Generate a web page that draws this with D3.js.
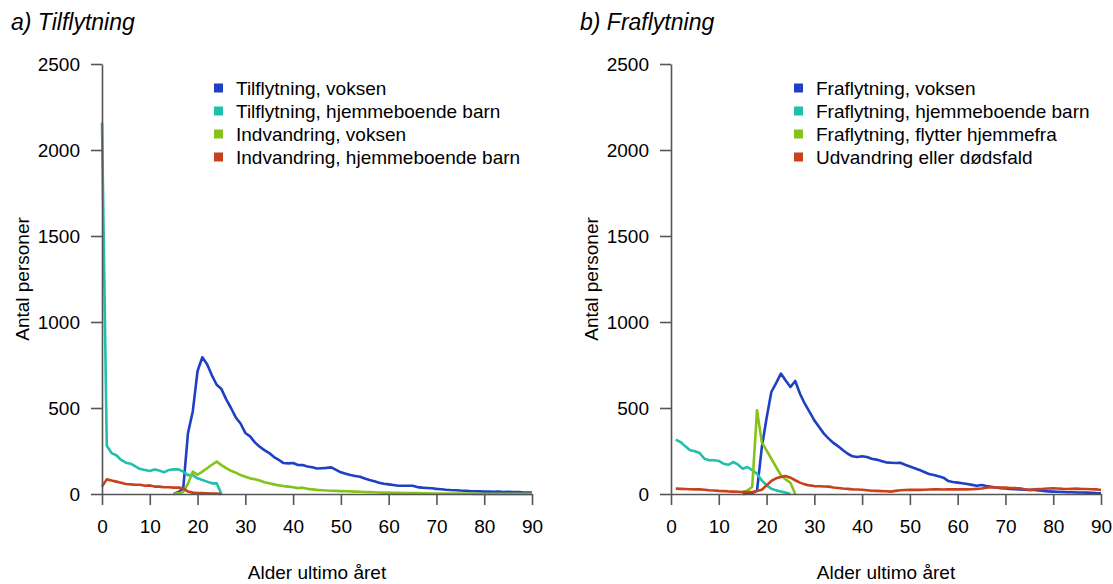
<!DOCTYPE html>
<html>
<head>
<meta charset="utf-8">
<script src="https://cdn.jsdelivr.net/npm/d3@7"></script>
<style>
  body { margin: 0; background: #fff; }
  svg { display: block; font-family: "Liberation Sans", Arial, sans-serif; }
</style>
</head>
<body>
<svg id="chart" width="1113" height="584"></svg>
<script>
// ---------------- DATA ----------------
const xTicks = [0, 10, 20, 30, 40, 50, 60, 70, 80, 90];
const yTicks = [0, 500, 1000, 1500, 2000, 2500];

const titleA = "a) Tilflytning";
const titleB = "b) Fraflytning";
const xTitle = "Alder ultimo året";
const yTitle = "Antal personer";

const legendA = ["Tilflytning, voksen", "Tilflytning, hjemmeboende barn", "Indvandring, voksen", "Indvandring, hjemmeboende barn"];
const legendB = ["Fraflytning, voksen", "Fraflytning, hjemmeboende barn", "Fraflytning, flytter hjemmefra", "Udvandring eller dødsfald"];
const colors = ["#1f3fc4", "#21c0ac", "#86c21c", "#c9401d"];

// Panel a) series: start age + consecutive yearly values
const tilVoksenStart = 15;
const tilVoksen = [0, 12, 32, 355, 480, 715, 795, 755, 690, 635, 610, 550, 500, 445, 410, 355, 335, 300, 275, 255,
  238, 215, 198, 180, 178, 180, 169, 168, 160, 155, 148, 150, 152, 155, 140, 126, 118, 110, 105, 100,
  90, 81, 74, 66, 60, 56, 52, 48, 48, 48, 48, 40, 37, 35, 33, 30, 28, 25, 23, 22,
  20, 19, 17, 16, 15, 14, 14, 13, 14, 12, 13, 11, 12, 10, 9, 8];
const tilBarnStart = 0;
const tilBarn = [2160, 280, 238, 225, 198, 182, 176, 160, 145, 140, 134, 143, 136, 126, 140, 143, 143, 130, 110, 110,
  91, 81, 72, 62, 62, 0];
const indVoksenStart = 15;
const indVoksen = [0, 5, 12, 60, 130, 112, 130, 150, 170, 188, 168, 150, 135, 124, 110, 100, 91, 86, 78, 68,
  62, 56, 50, 46, 43, 39, 34, 37, 30, 27, 24, 22, 20, 19, 18, 17, 16, 15, 14, 13,
  12, 11, 10, 9, 8, 8, 7, 7, 6, 6, 5, 5, 4, 4, 3, 3, 3, 2, 2, 2,
  2, 2, 2, 1, 1, 1, 1, 1, 1, 1, 1, 1, 1, 1, 1, 1];
const indBarnStart = 0;
const indBarn = [43, 85, 78, 72, 66, 58, 56, 54, 54, 48, 50, 43, 43, 39, 39, 37, 37, 33, 14, 8,
  6, 5, 4, 3, 2, 0];

// Panel b) series
const fraVoksenStart = 15;
const fraVoksen = [0, 2, 5, 18, 270, 440, 593, 645, 700, 660, 622, 657, 583, 525, 477, 428, 390, 351, 322, 297,
  277, 254, 234, 219, 215, 219, 215, 205, 200, 192, 184, 182, 180, 182, 170, 160, 150, 140, 128, 116,
  110, 103, 95, 76, 70, 66, 62, 58, 53, 48, 52, 46, 42, 38, 34, 32, 30, 28, 27, 25,
  24, 23, 21, 18, 15, 14, 13, 12, 10, 10, 9, 9, 8, 7, 5, 4];
const fraBarnStart = 1;
const fraBarn = [316, 302, 277, 254, 248, 238, 205, 196, 196, 192, 176, 170, 186, 172, 147, 157, 138, 118, 79, 50,
  31, 21, 15, 8, 0];
const fraHjemStart = 15;
const fraHjem = [12, 21, 41, 486, 302, 254, 205, 157, 109, 85, 65, 0];
const udvandStart = 1;
const udvand = [31, 30, 29, 28, 27, 27, 25, 22, 20, 18, 17, 15, 14, 13, 12, 12, 12, 17, 25, 50,
  76, 91, 99, 105, 95, 80, 66, 56, 50, 46, 45, 44, 43, 38, 35, 32, 30, 27, 26, 25,
  22, 19, 18, 17, 16, 14, 18, 22, 23, 24, 25, 24, 25, 26, 27, 27, 26, 27, 27, 27,
  28, 27, 28, 30, 32, 36, 39, 38, 37, 37, 35, 34, 33, 28, 23, 27, 29, 30, 32, 33,
  32, 30, 29, 30, 31, 29, 29, 28, 27, 23];

// ---------------- DRAW ----------------
const svg = d3.select("#chart");
const axisColor = "#555";
const fs = 19;

function panel(opts) {
  const { x0, x1, title, titleX, legend, legendX, series } = opts;
  const y0 = 494, y1 = 64;
  const x = d3.scaleLinear().domain([0, 90]).range([x0, x1]);
  const y = d3.scaleLinear().domain([0, 2500]).range([y0, y1]);
  const g = svg.append("g");

  // title
  g.append("text").attr("x", titleX).attr("y", 30)
    .attr("font-size", 23).attr("font-style", "italic").text(title);

  // lines
  const line = d3.line().x(d => x(d[0])).y(d => y(d[1]));
  series.forEach((s, i) => {
    const pts = s.values.map((v, k) => [s.start + k, v]);
    g.append("path").datum(pts).attr("d", line)
      .attr("fill", "none").attr("stroke", colors[i]).attr("stroke-width", 2.6)
      .attr("stroke-linejoin", "round");
  });

  // y axis
  const ya = g.append("g").attr("transform", `translate(${x0},0)`)
    .call(d3.axisLeft(y).tickValues(yTicks).tickFormat(d3.format("d")).tickSize(11).tickSizeOuter(0).tickPadding(11));
  // x axis
  const xa = g.append("g").attr("transform", `translate(0,${y0})`)
    .call(d3.axisBottom(x).tickValues(xTicks).tickFormat(d3.format("d")).tickSize(11).tickSizeOuter(0).tickPadding(15));
  [ya, xa].forEach(a => {
    a.selectAll("path, line").attr("stroke", axisColor).attr("stroke-width", 1.6);
    a.selectAll("text").attr("font-size", fs).attr("fill", "#000")
      .attr("font-family", "Liberation Sans, Arial, sans-serif");
  });

  // axis titles
  g.append("text").attr("x", (x0 + x1) / 2).attr("y", 579).attr("text-anchor", "middle")
    .attr("font-size", fs).text(xTitle);
  g.append("text").attr("transform", `translate(${x0 - 73},${(y0 + y1) / 2}) rotate(-90)`)
    .attr("text-anchor", "middle").attr("font-size", fs).text(yTitle);

  // legend
  const lg = g.append("g");
  legend.forEach((t, i) => {
    const cy = 88 + i * 23;
    lg.append("rect").attr("x", legendX).attr("y", cy - 4.5).attr("width", 9).attr("height", 9).attr("fill", colors[i]);
    lg.append("text").attr("x", legendX + 22).attr("y", cy).attr("dy", "0.35em")
      .attr("font-size", fs).text(t);
  });
}

panel({
  x0: 102, x1: 532, title: titleA, titleX: 11, legend: legendA, legendX: 214,
  series: [
    { start: tilVoksenStart, values: tilVoksen },
    { start: tilBarnStart, values: tilBarn },
    { start: indVoksenStart, values: indVoksen },
    { start: indBarnStart, values: indBarn }
  ]
});
panel({
  x0: 671, x1: 1101, title: titleB, titleX: 580, legend: legendB, legendX: 794,
  series: [
    { start: fraVoksenStart, values: fraVoksen },
    { start: fraBarnStart, values: fraBarn },
    { start: fraHjemStart, values: fraHjem },
    { start: udvandStart, values: udvand }
  ]
});
</script>
</body>
</html>
